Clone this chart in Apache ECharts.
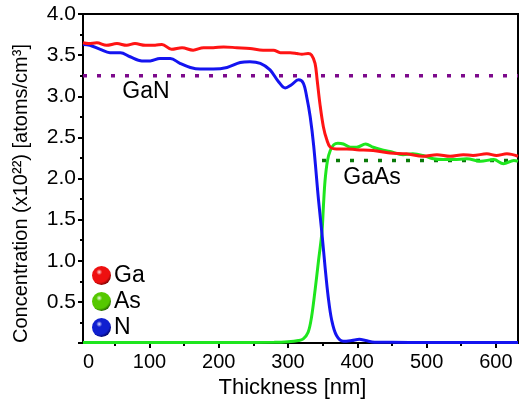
<!DOCTYPE html>
<html>
<head>
<meta charset="utf-8">
<script src="https://cdn.jsdelivr.net/npm/echarts@6/dist/echarts.min.js"></script>
<style>
  html, body { margin: 0; padding: 0; background: #fff; }
  #chart { width: 519px; height: 406px; }
</style>
</head>
<body>
<div id="chart"></div>
<script>
// depth profile, thickness in nm, concentration in 1e22 atoms/cm3
const gaPoints = [
  [4, 3.65], [12, 3.64], [24, 3.65], [38, 3.62], [53, 3.64], [67, 3.62], [79, 3.64],
  [94, 3.62], [108, 3.62], [118, 3.63], [132, 3.57], [147, 3.59], [163, 3.56], [178, 3.59],
  [192, 3.59], [207, 3.60], [226, 3.59], [245, 3.58], [264, 3.56], [279, 3.56], [289, 3.53],
  [303, 3.53], [313, 3.52], [320, 3.51], [329, 3.52], [334, 3.50], [339, 3.40], [342, 3.20],
  [346, 2.91], [351, 2.63], [356, 2.47], [361, 2.38], [370, 2.36], [385, 2.36], [399, 2.35],
  [423, 2.34], [447, 2.31], [471, 2.30], [495, 2.27], [515, 2.29], [534, 2.27], [553, 2.29],
  [567, 2.28], [587, 2.30], [601, 2.28], [616, 2.30], [632, 2.27]
]
const asPoints = [
  [4, 0.005], [100, 0.005], [200, 0.005], [280, 0.008], [300, 0.015], [315, 0.03], [322, 0.05],
  [329, 0.13], [334, 0.32], [339, 0.64], [344, 1.0], [349, 1.35], [351, 1.65], [353.5, 1.98],
  [357, 2.22], [361, 2.34], [366, 2.41], [372, 2.43], [380, 2.42], [390, 2.38], [399, 2.38],
  [412, 2.42], [423, 2.38], [435, 2.35], [447, 2.33], [466, 2.29], [480, 2.30], [495, 2.28],
  [510, 2.24], [525, 2.23], [539, 2.23], [558, 2.24], [578, 2.21], [597, 2.23], [611, 2.18],
  [626, 2.22], [632, 2.21]
]
const nPoints = [
  [4, 3.63], [14, 3.62], [29, 3.57], [43, 3.53], [58, 3.53], [72, 3.48], [89, 3.43],
  [101, 3.43], [115, 3.46], [130, 3.46], [144, 3.40], [159, 3.35], [173, 3.33], [192, 3.33],
  [212, 3.35], [231, 3.41], [245, 3.42], [260, 3.40], [274, 3.32], [286, 3.18], [296, 3.10],
  [305, 3.14], [315, 3.20], [322, 3.16], [327, 2.99], [332, 2.75], [337, 2.40], [344, 1.74],
  [349, 1.33], [353.5, 0.92], [358, 0.56], [363, 0.28], [370, 0.09], [380, 0.02], [392, 0.03],
  [403, 0.045], [412, 0.03], [425, 0.01], [450, 0.01], [500, 0.005], [550, 0.005], [632, 0.005]
]
// bulk reference levels
const ganLevel = [[4, 3.25], [632, 3.25]]
const gaasLevel = [[349, 2.22], [632, 2.22]]

const xMajorTicks = [100, 200, 300, 400, 500, 600]
const xMinorTicks = [50, 150, 250, 350, 450, 550]
const xLabels = [4, 100, 200, 300, 400, 500, 600]

const font = '"Liberation Sans", Arial, sans-serif'

const ball = (light, mid, dark) => ({
  type: 'radial', x: 0.38, y: 0.32, r: 0.72,
  colorStops: [
    {offset: 0, color: light},
    {offset: 0.22, color: mid},
    {offset: 0.75, color: mid},
    {offset: 1, color: dark}
  ]
})

const chart = echarts.init(document.getElementById('chart'))

const lineSeries = (name, data, color) => ({
  name,
  type: 'line',
  data,
  smooth: 0.35,
  showSymbol: false,
  lineStyle: {color, width: 3},
  itemStyle: {color},
  z: 3
})

chart.setOption({
  animation: false,
  textStyle: {fontFamily: font},
  grid: {
    left: 83, right: 1, top: 14, bottom: 63,
    outerBoundsMode: 'none',
    show: true, borderColor: '#000', borderWidth: 2
  },
  legend: {
    orient: 'vertical',
    left: 92, top: 264,
    icon: 'circle',
    itemWidth: 19, itemHeight: 19, itemGap: 3,
    padding: 0,
    textStyle: {fontSize: 23, color: '#000', fontFamily: font, padding: [0, 0, 0, -2]},
    data: [
      {name: 'Ga', itemStyle: {color: ball('#ffe0e0', '#ee1010', '#700000')}},
      {name: 'As', itemStyle: {color: ball('#f0ffe0', '#55c800', '#1f5a00')}},
      {name: 'N', itemStyle: {color: ball('#e0e0ff', '#1020d0', '#000060')}}
    ]
  },
  xAxis: [
    {
      type: 'value', min: 4, max: 632,
      name: 'Thickness [nm]', nameLocation: 'middle', nameGap: 33,
      nameTextStyle: {fontSize: 22, color: '#000', padding: [0, 16, 0, 0]},
      splitLine: {show: false},
      axisLine: {lineStyle: {color: '#000', width: 2}},
      axisTick: {customValues: xMajorTicks, length: 5, lineStyle: {width: 2, color: '#000'}},
      axisLabel: {
        customValues: xLabels, fontSize: 20, color: '#000', margin: 9,
        alignMinLabel: 'left',
        formatter: v => (v < 50 ? '0' : String(v))
      }
    },
    {
      type: 'value', min: 4, max: 632, position: 'bottom',
      splitLine: {show: false},
      axisLine: {show: false},
      axisTick: {customValues: xMinorTicks, length: 3, lineStyle: {width: 2, color: '#000'}},
      axisLabel: {show: false}
    }
  ],
  yAxis: {
    type: 'value', min: 0, max: 4, interval: 0.5,
    name: 'Concentration (x10²²) [atoms/cm³]', nameLocation: 'middle', nameGap: 52,
    nameTextStyle: {fontSize: 20, color: '#000', padding: [0, 30, 0, 0]},
    splitLine: {show: false},
    axisLine: {show: true, lineStyle: {color: '#000', width: 2}},
    axisTick: {length: 5, lineStyle: {width: 2, color: '#000'}},
    minorTick: {show: true, splitNumber: 2, length: 3, lineStyle: {width: 2, color: '#000'}},
    axisLabel: {
      fontSize: 21, color: '#000', margin: 7,
      formatter: v => (v === 0 ? '' : v.toFixed(1))
    }
  },
  graphic: [
    {type: 'text', x: 146, y: 92, style: {text: 'GaN', fontSize: 23, fontFamily: font, fill: '#000', align: 'center', verticalAlign: 'middle'}},
    {type: 'text', x: 372, y: 178, style: {text: 'GaAs', fontSize: 23, fontFamily: font, fill: '#000', align: 'center', verticalAlign: 'middle'}}
  ],
  series: [
    {
      type: 'line', data: ganLevel, showSymbol: false, silent: true, z: 2,
      lineStyle: {color: '#7d0a8c', width: 3.5, type: [4, 10]}
    },
    {
      type: 'line', data: gaasLevel, showSymbol: false, silent: true, z: 2,
      lineStyle: {color: '#0a7a0a', width: 3.5, type: [4, 10]}
    },
    lineSeries('As', asPoints, '#1ee61e'),
    lineSeries('N', nPoints, '#1414f0'),
    lineSeries('Ga', gaPoints, '#ff1414')
  ]
})
</script>
</body>
</html>
